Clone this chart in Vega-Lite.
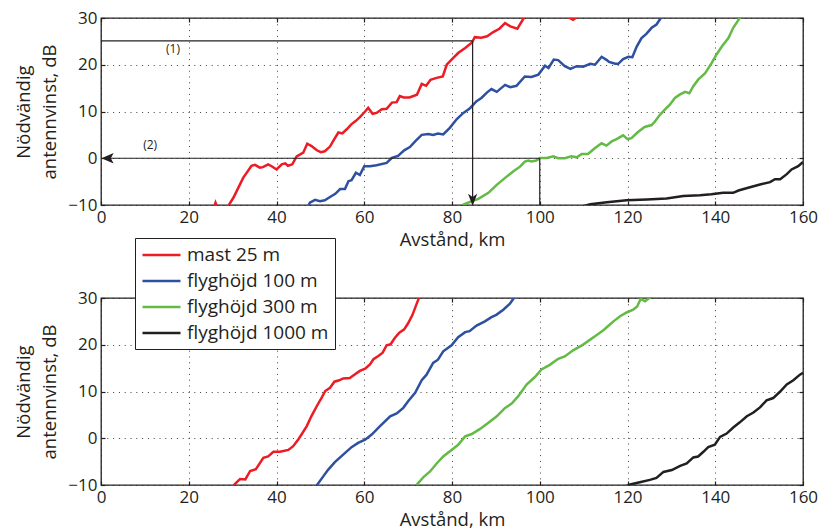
{
  "$schema": "https://vega.github.io/schema/vega-lite/v6.json",
  "background": "white",
  "padding": {"left": 14, "top": 8, "right": 8, "bottom": 0},
  "spacing": 93,
  "bounds": "flush",
  "datasets": {
    "top": [
      {"serie":"mast 25 m","km":25.6,"dB":-10.8},{"serie":"mast 25 m","km":26.1,"dB":-9.5},{"serie":"mast 25 m","km":26.6,"dB":-10.8},{"serie":"mast 25 m","km":28.7,"dB":-11},{"serie":"mast 25 m","km":29.2,"dB":-9.9},{"serie":"mast 25 m","km":30.2,"dB":-8.4},{"serie":"mast 25 m","km":32.4,"dB":-4.2},{"serie":"mast 25 m","km":34.3,"dB":-1.6},{"serie":"mast 25 m","km":35.1,"dB":-1.4},{"serie":"mast 25 m","km":36.2,"dB":-2.0},{"serie":"mast 25 m","km":36.9,"dB":-1.9},{"serie":"mast 25 m","km":38.1,"dB":-1.3},{"serie":"mast 25 m","km":38.9,"dB":-1.7},{"serie":"mast 25 m","km":40,"dB":-2.4},{"serie":"mast 25 m","km":41.2,"dB":-1.3},{"serie":"mast 25 m","km":42,"dB":-1.1},{"serie":"mast 25 m","km":42.6,"dB":-1.6},{"serie":"mast 25 m","km":43.6,"dB":-1.3},{"serie":"mast 25 m","km":44.6,"dB":0.4},{"serie":"mast 25 m","km":46.1,"dB":1.2},{"serie":"mast 25 m","km":47,"dB":3.1},{"serie":"mast 25 m","km":48,"dB":2.6},{"serie":"mast 25 m","km":49.2,"dB":1.7},{"serie":"mast 25 m","km":50.1,"dB":1.3},{"serie":"mast 25 m","km":51,"dB":1.5},{"serie":"mast 25 m","km":52.2,"dB":2.5},{"serie":"mast 25 m","km":53,"dB":3.8},{"serie":"mast 25 m","km":54.1,"dB":5.5},{"serie":"mast 25 m","km":55,"dB":5.3},{"serie":"mast 25 m","km":56,"dB":6.2},{"serie":"mast 25 m","km":57.1,"dB":7.3},{"serie":"mast 25 m","km":58.1,"dB":8.0},{"serie":"mast 25 m","km":59,"dB":8.8},{"serie":"mast 25 m","km":60.2,"dB":10.0},{"serie":"mast 25 m","km":60.9,"dB":10.8},{"serie":"mast 25 m","km":61.9,"dB":9.5},{"serie":"mast 25 m","km":62.8,"dB":9.7},{"serie":"mast 25 m","km":64,"dB":10.5},{"serie":"mast 25 m","km":65.1,"dB":10.6},{"serie":"mast 25 m","km":66.3,"dB":11.9},{"serie":"mast 25 m","km":67.4,"dB":12.0},{"serie":"mast 25 m","km":68.1,"dB":13.3},{"serie":"mast 25 m","km":69,"dB":13.0},{"serie":"mast 25 m","km":70.3,"dB":13.0},{"serie":"mast 25 m","km":72,"dB":13.6},{"serie":"mast 25 m","km":73.1,"dB":15.9},{"serie":"mast 25 m","km":74.1,"dB":15.5},{"serie":"mast 25 m","km":75.1,"dB":16.8},{"serie":"mast 25 m","km":76.5,"dB":17.2},{"serie":"mast 25 m","km":77.9,"dB":17.5},{"serie":"mast 25 m","km":78.8,"dB":20},{"serie":"mast 25 m","km":79.9,"dB":21.1},{"serie":"mast 25 m","km":81.4,"dB":22.5},{"serie":"mast 25 m","km":83,"dB":23.6},{"serie":"mast 25 m","km":84.5,"dB":24.7},{"serie":"mast 25 m","km":85.2,"dB":25.9},{"serie":"mast 25 m","km":86.7,"dB":25.8},{"serie":"mast 25 m","km":88,"dB":26.1},{"serie":"mast 25 m","km":89.4,"dB":27},{"serie":"mast 25 m","km":90.8,"dB":27.7},{"serie":"mast 25 m","km":92.1,"dB":28.9},{"serie":"mast 25 m","km":93.3,"dB":28.2},{"serie":"mast 25 m","km":94.9,"dB":27.7},{"serie":"mast 25 m","km":96.5,"dB":30.2},{"serie":"mast 25 m","km":98,"dB":31.5},{"serie":"mast 25 m","km":103,"dB":32},{"serie":"mast 25 m","km":106.5,"dB":30.2},{"serie":"mast 25 m","km":107.6,"dB":29.6},{"serie":"mast 25 m","km":108.5,"dB":30.2},{"serie":"mast 25 m","km":111,"dB":32},{"serie":"mast 25 m","km":115,"dB":34},
      {"serie":"flyghöjd 100 m","km":47,"dB":-10.8},{"serie":"flyghöjd 100 m","km":47.6,"dB":-9.5},{"serie":"flyghöjd 100 m","km":48.8,"dB":-8.9},{"serie":"flyghöjd 100 m","km":49.9,"dB":-9.2},{"serie":"flyghöjd 100 m","km":51,"dB":-9},{"serie":"flyghöjd 100 m","km":52.2,"dB":-8.3},{"serie":"flyghöjd 100 m","km":53.4,"dB":-7.6},{"serie":"flyghöjd 100 m","km":54.5,"dB":-6.6},{"serie":"flyghöjd 100 m","km":55.6,"dB":-6.6},{"serie":"flyghöjd 100 m","km":56.4,"dB":-4.9},{"serie":"flyghöjd 100 m","km":57.1,"dB":-4.7},{"serie":"flyghöjd 100 m","km":58.1,"dB":-3.1},{"serie":"flyghöjd 100 m","km":59,"dB":-3.6},{"serie":"flyghöjd 100 m","km":60,"dB":-1.7},{"serie":"flyghöjd 100 m","km":61.3,"dB":-1.7},{"serie":"flyghöjd 100 m","km":62.8,"dB":-1.5},{"serie":"flyghöjd 100 m","km":65.1,"dB":-1.0},{"serie":"flyghöjd 100 m","km":66.3,"dB":0.1},{"serie":"flyghöjd 100 m","km":67.7,"dB":0.5},{"serie":"flyghöjd 100 m","km":69.1,"dB":1.7},{"serie":"flyghöjd 100 m","km":70.4,"dB":2.4},{"serie":"flyghöjd 100 m","km":71.6,"dB":3.6},{"serie":"flyghöjd 100 m","km":73.1,"dB":5.0},{"serie":"flyghöjd 100 m","km":74.6,"dB":5.2},{"serie":"flyghöjd 100 m","km":75.7,"dB":5.0},{"serie":"flyghöjd 100 m","km":76.8,"dB":5.3},{"serie":"flyghöjd 100 m","km":78,"dB":5.1},{"serie":"flyghöjd 100 m","km":79.5,"dB":6.5},{"serie":"flyghöjd 100 m","km":81.1,"dB":8.4},{"serie":"flyghöjd 100 m","km":82.6,"dB":9.7},{"serie":"flyghöjd 100 m","km":84.1,"dB":10.7},{"serie":"flyghöjd 100 m","km":85.6,"dB":12.2},{"serie":"flyghöjd 100 m","km":86.7,"dB":12.9},{"serie":"flyghöjd 100 m","km":88,"dB":14.1},{"serie":"flyghöjd 100 m","km":89,"dB":14.8},{"serie":"flyghöjd 100 m","km":90.2,"dB":14.2},{"serie":"flyghöjd 100 m","km":92.1,"dB":15.7},{"serie":"flyghöjd 100 m","km":93.3,"dB":15.2},{"serie":"flyghöjd 100 m","km":94.7,"dB":15.5},{"serie":"flyghöjd 100 m","km":96.6,"dB":17.5},{"serie":"flyghöjd 100 m","km":98.1,"dB":17.4},{"serie":"flyghöjd 100 m","km":99.7,"dB":17.9},{"serie":"flyghöjd 100 m","km":101.2,"dB":19.8},{"serie":"flyghöjd 100 m","km":102,"dB":19.3},{"serie":"flyghöjd 100 m","km":103.2,"dB":21.1},{"serie":"flyghöjd 100 m","km":104.2,"dB":21},{"serie":"flyghöjd 100 m","km":105.7,"dB":19.7},{"serie":"flyghöjd 100 m","km":107,"dB":19.1},{"serie":"flyghöjd 100 m","km":108.4,"dB":19.7},{"serie":"flyghöjd 100 m","km":109.9,"dB":19.6},{"serie":"flyghöjd 100 m","km":111.5,"dB":20.2},{"serie":"flyghöjd 100 m","km":112.6,"dB":20.0},{"serie":"flyghöjd 100 m","km":114.1,"dB":21.7},{"serie":"flyghöjd 100 m","km":115.3,"dB":21},{"serie":"flyghöjd 100 m","km":115.8,"dB":20.6},{"serie":"flyghöjd 100 m","km":117.2,"dB":20.2},{"serie":"flyghöjd 100 m","km":117.9,"dB":20.2},{"serie":"flyghöjd 100 m","km":119,"dB":21.2},{"serie":"flyghöjd 100 m","km":120.2,"dB":21.7},{"serie":"flyghöjd 100 m","km":121.1,"dB":21.6},{"serie":"flyghöjd 100 m","km":122.1,"dB":23.9},{"serie":"flyghöjd 100 m","km":123.2,"dB":25.7},{"serie":"flyghöjd 100 m","km":124.3,"dB":26.6},{"serie":"flyghöjd 100 m","km":125.5,"dB":27.9},{"serie":"flyghöjd 100 m","km":126.6,"dB":28.6},{"serie":"flyghöjd 100 m","km":127.6,"dB":30},{"serie":"flyghöjd 100 m","km":128.5,"dB":31.5},
      {"serie":"flyghöjd 300 m","km":82,"dB":-10.8},{"serie":"flyghöjd 300 m","km":82.6,"dB":-9.9},{"serie":"flyghöjd 300 m","km":84.5,"dB":-9.2},{"serie":"flyghöjd 300 m","km":86,"dB":-8.7},{"serie":"flyghöjd 300 m","km":88.3,"dB":-7.4},{"serie":"flyghöjd 300 m","km":90.2,"dB":-5.7},{"serie":"flyghöjd 300 m","km":92.1,"dB":-4.2},{"serie":"flyghöjd 300 m","km":94,"dB":-2.8},{"serie":"flyghöjd 300 m","km":95.5,"dB":-1.8},{"serie":"flyghöjd 300 m","km":96.6,"dB":-0.7},{"serie":"flyghöjd 300 m","km":97.4,"dB":-0.5},{"serie":"flyghöjd 300 m","km":98.1,"dB":-0.7},{"serie":"flyghöjd 300 m","km":99.2,"dB":-0.5},{"serie":"flyghöjd 300 m","km":100.1,"dB":0.05},{"serie":"flyghöjd 300 m","km":101.6,"dB":0.05},{"serie":"flyghöjd 300 m","km":103.1,"dB":0.4},{"serie":"flyghöjd 300 m","km":104.2,"dB":0},{"serie":"flyghöjd 300 m","km":105.7,"dB":0},{"serie":"flyghöjd 300 m","km":107.2,"dB":0.4},{"serie":"flyghöjd 300 m","km":108.4,"dB":0.2},{"serie":"flyghöjd 300 m","km":109.6,"dB":0.9},{"serie":"flyghöjd 300 m","km":111,"dB":0.9},{"serie":"flyghöjd 300 m","km":112.6,"dB":2.2},{"serie":"flyghöjd 300 m","km":114.1,"dB":3.2},{"serie":"flyghöjd 300 m","km":115.2,"dB":2.7},{"serie":"flyghöjd 300 m","km":116.4,"dB":3.6},{"serie":"flyghöjd 300 m","km":117.5,"dB":4.1},{"serie":"flyghöjd 300 m","km":119,"dB":4.9},{"serie":"flyghöjd 300 m","km":120,"dB":4.1},{"serie":"flyghöjd 300 m","km":120.9,"dB":4.3},{"serie":"flyghöjd 300 m","km":122.4,"dB":5.6},{"serie":"flyghöjd 300 m","km":123.9,"dB":6.7},{"serie":"flyghöjd 300 m","km":125.5,"dB":7.1},{"serie":"flyghöjd 300 m","km":126.2,"dB":7.8},{"serie":"flyghöjd 300 m","km":127.4,"dB":9.3},{"serie":"flyghöjd 300 m","km":128.5,"dB":10.4},{"serie":"flyghöjd 300 m","km":129.7,"dB":11.5},{"serie":"flyghöjd 300 m","km":130.8,"dB":12.9},{"serie":"flyghöjd 300 m","km":131.9,"dB":13.6},{"serie":"flyghöjd 300 m","km":133.1,"dB":14.2},{"serie":"flyghöjd 300 m","km":134.1,"dB":13.9},{"serie":"flyghöjd 300 m","km":135,"dB":15.4},{"serie":"flyghöjd 300 m","km":136.1,"dB":16.8},{"serie":"flyghöjd 300 m","km":137.7,"dB":18.2},{"serie":"flyghöjd 300 m","km":139.2,"dB":20.4},{"serie":"flyghöjd 300 m","km":140.3,"dB":22.2},{"serie":"flyghöjd 300 m","km":141.5,"dB":23.9},{"serie":"flyghöjd 300 m","km":143,"dB":25.7},{"serie":"flyghöjd 300 m","km":144.1,"dB":27.9},{"serie":"flyghöjd 300 m","km":145.3,"dB":29.6},{"serie":"flyghöjd 300 m","km":146.5,"dB":31.5},
      {"serie":"flyghöjd 1000 m","km":109,"dB":-10.5},{"serie":"flyghöjd 1000 m","km":111.5,"dB":-9.85},{"serie":"flyghöjd 1000 m","km":115.3,"dB":-9.4},{"serie":"flyghöjd 1000 m","km":119.8,"dB":-9.0},{"serie":"flyghöjd 1000 m","km":124.4,"dB":-8.8},{"serie":"flyghöjd 1000 m","km":128.9,"dB":-8.6},{"serie":"flyghöjd 1000 m","km":132.7,"dB":-8.1},{"serie":"flyghöjd 1000 m","km":136.5,"dB":-7.9},{"serie":"flyghöjd 1000 m","km":139.1,"dB":-7.7},{"serie":"flyghöjd 1000 m","km":141.8,"dB":-7.4},{"serie":"flyghöjd 1000 m","km":144.1,"dB":-7.4},{"serie":"flyghöjd 1000 m","km":145.3,"dB":-6.9},{"serie":"flyghöjd 1000 m","km":147.5,"dB":-6.3},{"serie":"flyghöjd 1000 m","km":150.2,"dB":-5.6},{"serie":"flyghöjd 1000 m","km":152.5,"dB":-5.1},{"serie":"flyghöjd 1000 m","km":153.6,"dB":-4.5},{"serie":"flyghöjd 1000 m","km":154.8,"dB":-4.5},{"serie":"flyghöjd 1000 m","km":156.3,"dB":-3.4},{"serie":"flyghöjd 1000 m","km":157.4,"dB":-2.4},{"serie":"flyghöjd 1000 m","km":158.9,"dB":-1.7},{"serie":"flyghöjd 1000 m","km":160,"dB":-0.8}
    ],
    "bottom": [
      {"serie":"mast 25 m","km":29.8,"dB":-11},{"serie":"mast 25 m","km":30.4,"dB":-9.9},{"serie":"mast 25 m","km":31.7,"dB":-8.7},{"serie":"mast 25 m","km":32.9,"dB":-8.8},{"serie":"mast 25 m","km":34,"dB":-7.0},{"serie":"mast 25 m","km":35.3,"dB":-6.6},{"serie":"mast 25 m","km":37,"dB":-4.2},{"serie":"mast 25 m","km":38.1,"dB":-3.9},{"serie":"mast 25 m","km":39.3,"dB":-2.9},{"serie":"mast 25 m","km":40.8,"dB":-2.9},{"serie":"mast 25 m","km":42.7,"dB":-2.5},{"serie":"mast 25 m","km":43.8,"dB":-1.7},{"serie":"mast 25 m","km":45,"dB":-0.2},{"serie":"mast 25 m","km":45.7,"dB":0.8},{"serie":"mast 25 m","km":46.9,"dB":2.6},{"serie":"mast 25 m","km":48,"dB":4.8},{"serie":"mast 25 m","km":49.2,"dB":6.9},{"serie":"mast 25 m","km":50.3,"dB":8.7},{"serie":"mast 25 m","km":51.1,"dB":10.1},{"serie":"mast 25 m","km":52.2,"dB":10.8},{"serie":"mast 25 m","km":53.2,"dB":12.1},{"serie":"mast 25 m","km":54.3,"dB":12.4},{"serie":"mast 25 m","km":55.2,"dB":12.8},{"serie":"mast 25 m","km":56.7,"dB":12.9},{"serie":"mast 25 m","km":57.9,"dB":13.7},{"serie":"mast 25 m","km":59,"dB":14.4},{"serie":"mast 25 m","km":60.2,"dB":14.9},{"serie":"mast 25 m","km":61.3,"dB":15.8},{"serie":"mast 25 m","km":62.1,"dB":16.9},{"serie":"mast 25 m","km":63.2,"dB":17.6},{"serie":"mast 25 m","km":64.2,"dB":18.3},{"serie":"mast 25 m","km":65.1,"dB":19.9},{"serie":"mast 25 m","km":66,"dB":20.1},{"serie":"mast 25 m","km":67,"dB":21.5},{"serie":"mast 25 m","km":68,"dB":22.6},{"serie":"mast 25 m","km":69.1,"dB":23.3},{"serie":"mast 25 m","km":70,"dB":24.6},{"serie":"mast 25 m","km":71,"dB":26.4},{"serie":"mast 25 m","km":72,"dB":28.9},{"serie":"mast 25 m","km":72.6,"dB":30.3},{"serie":"mast 25 m","km":73.5,"dB":32},
      {"serie":"flyghöjd 100 m","km":48.8,"dB":-11},{"serie":"flyghöjd 100 m","km":49.3,"dB":-9.9},{"serie":"flyghöjd 100 m","km":50.7,"dB":-8.1},{"serie":"flyghöjd 100 m","km":51.8,"dB":-6.7},{"serie":"flyghöjd 100 m","km":53.3,"dB":-5.1},{"serie":"flyghöjd 100 m","km":55.2,"dB":-3.5},{"serie":"flyghöjd 100 m","km":57.1,"dB":-1.9},{"serie":"flyghöjd 100 m","km":58.6,"dB":-1.0},{"serie":"flyghöjd 100 m","km":60.2,"dB":-0.3},{"serie":"flyghöjd 100 m","km":61.7,"dB":0.8},{"serie":"flyghöjd 100 m","km":63.6,"dB":2.6},{"serie":"flyghöjd 100 m","km":65.9,"dB":4.7},{"serie":"flyghöjd 100 m","km":67.4,"dB":5.3},{"serie":"flyghöjd 100 m","km":68.9,"dB":6.5},{"serie":"flyghöjd 100 m","km":70,"dB":7.9},{"serie":"flyghöjd 100 m","km":71.6,"dB":9.7},{"serie":"flyghöjd 100 m","km":73.1,"dB":12.4},{"serie":"flyghöjd 100 m","km":74.2,"dB":13.6},{"serie":"flyghöjd 100 m","km":75.7,"dB":16.1},{"serie":"flyghöjd 100 m","km":76.8,"dB":16.8},{"serie":"flyghöjd 100 m","km":78,"dB":18.6},{"serie":"flyghöjd 100 m","km":79.9,"dB":19.9},{"serie":"flyghöjd 100 m","km":81.4,"dB":21.6},{"serie":"flyghöjd 100 m","km":83,"dB":22.7},{"serie":"flyghöjd 100 m","km":84,"dB":22.9},{"serie":"flyghöjd 100 m","km":85.6,"dB":24.1},{"serie":"flyghöjd 100 m","km":87.5,"dB":25.0},{"serie":"flyghöjd 100 m","km":89,"dB":25.9},{"serie":"flyghöjd 100 m","km":90.1,"dB":26.4},{"serie":"flyghöjd 100 m","km":91.7,"dB":27.5},{"serie":"flyghöjd 100 m","km":93.2,"dB":28.8},{"serie":"flyghöjd 100 m","km":94.1,"dB":30},{"serie":"flyghöjd 100 m","km":95,"dB":31.5},
      {"serie":"flyghöjd 300 m","km":71.4,"dB":-11},{"serie":"flyghöjd 300 m","km":72,"dB":-9.9},{"serie":"flyghöjd 300 m","km":73.5,"dB":-8.3},{"serie":"flyghöjd 300 m","km":75,"dB":-7.1},{"serie":"flyghöjd 300 m","km":76.5,"dB":-5.4},{"serie":"flyghöjd 300 m","km":78,"dB":-3.9},{"serie":"flyghöjd 300 m","km":79.9,"dB":-2.5},{"serie":"flyghöjd 300 m","km":81.4,"dB":-1.4},{"serie":"flyghöjd 300 m","km":83,"dB":0.4},{"serie":"flyghöjd 300 m","km":84.5,"dB":0.9},{"serie":"flyghöjd 300 m","km":86.4,"dB":2.0},{"serie":"flyghöjd 300 m","km":88.3,"dB":3.3},{"serie":"flyghöjd 300 m","km":90.2,"dB":4.7},{"serie":"flyghöjd 300 m","km":92.1,"dB":6.5},{"serie":"flyghöjd 300 m","km":93.6,"dB":7.4},{"serie":"flyghöjd 300 m","km":95.1,"dB":9.0},{"serie":"flyghöjd 300 m","km":97,"dB":11.5},{"serie":"flyghöjd 300 m","km":98.9,"dB":13.1},{"serie":"flyghöjd 300 m","km":100.4,"dB":14.7},{"serie":"flyghöjd 300 m","km":102.3,"dB":15.7},{"serie":"flyghöjd 300 m","km":104.2,"dB":17.0},{"serie":"flyghöjd 300 m","km":105.7,"dB":17.5},{"serie":"flyghöjd 300 m","km":107.6,"dB":18.8},{"serie":"flyghöjd 300 m","km":109.5,"dB":19.8},{"serie":"flyghöjd 300 m","km":111.5,"dB":21.1},{"serie":"flyghöjd 300 m","km":113,"dB":22.1},{"serie":"flyghöjd 300 m","km":114.5,"dB":23.1},{"serie":"flyghöjd 300 m","km":115.6,"dB":24.0},{"serie":"flyghöjd 300 m","km":116.8,"dB":25.0},{"serie":"flyghöjd 300 m","km":118.3,"dB":26.1},{"serie":"flyghöjd 300 m","km":119.8,"dB":26.9},{"serie":"flyghöjd 300 m","km":121.3,"dB":27.5},{"serie":"flyghöjd 300 m","km":122.2,"dB":28.2},{"serie":"flyghöjd 300 m","km":123,"dB":29.8},{"serie":"flyghöjd 300 m","km":124,"dB":29.3},{"serie":"flyghöjd 300 m","km":125,"dB":30},{"serie":"flyghöjd 300 m","km":126,"dB":31.5},
      {"serie":"flyghöjd 1000 m","km":119,"dB":-10.5},{"serie":"flyghöjd 1000 m","km":120.6,"dB":-9.9},{"serie":"flyghöjd 1000 m","km":122.8,"dB":-9.4},{"serie":"flyghöjd 1000 m","km":125.1,"dB":-8.9},{"serie":"flyghöjd 1000 m","km":126.6,"dB":-8.5},{"serie":"flyghöjd 1000 m","km":128.2,"dB":-7.2},{"serie":"flyghöjd 1000 m","km":130.1,"dB":-6.8},{"serie":"flyghöjd 1000 m","km":132,"dB":-5.9},{"serie":"flyghöjd 1000 m","km":133.5,"dB":-5.4},{"serie":"flyghöjd 1000 m","km":135,"dB":-4.1},{"serie":"flyghöjd 1000 m","km":136.1,"dB":-3.9},{"serie":"flyghöjd 1000 m","km":137.3,"dB":-2.9},{"serie":"flyghöjd 1000 m","km":138.4,"dB":-1.9},{"serie":"flyghöjd 1000 m","km":139.9,"dB":-1.4},{"serie":"flyghöjd 1000 m","km":141.1,"dB":0.3},{"serie":"flyghöjd 1000 m","km":142.6,"dB":1.0},{"serie":"flyghöjd 1000 m","km":144.1,"dB":2.3},{"serie":"flyghöjd 1000 m","km":145.6,"dB":3.4},{"serie":"flyghöjd 1000 m","km":147.2,"dB":4.7},{"serie":"flyghöjd 1000 m","km":148.7,"dB":5.5},{"serie":"flyghöjd 1000 m","km":150.2,"dB":6.6},{"serie":"flyghöjd 1000 m","km":151.7,"dB":8.1},{"serie":"flyghöjd 1000 m","km":153.2,"dB":8.6},{"serie":"flyghöjd 1000 m","km":154.8,"dB":10.0},{"serie":"flyghöjd 1000 m","km":156.3,"dB":11.5},{"serie":"flyghöjd 1000 m","km":157.8,"dB":12.4},{"serie":"flyghöjd 1000 m","km":159.3,"dB":13.6},{"serie":"flyghöjd 1000 m","km":160,"dB":14}
    ],
    "guides": [
      {"km":0,"dB":25.1,"km2":84.7,"dB2":25.1},
      {"km":84.7,"dB":25.1,"km2":84.7,"dB2":-9},
      {"km":1,"dB":0,"km2":100,"dB2":0},
      {"km":100,"dB":0,"km2":100,"dB2":-10}
    ],
    "arrows": [
      {"km":84.7,"dB":-8.93,"dir":"down"},
      {"km":1.48,"dB":0,"dir":"left"}
    ],
    "notes": [
      {"km":16.4,"dB":23.3,"t":"(1)"},
      {"km":11.2,"dB":2.8,"t":"(2)"}
    ]
  },
  "vconcat": [
    {
      "width": 702,
      "height": 187,
      "layer": [
        {
          "data": {"name": "top"},
          "mark": {"type": "line", "clip": true, "strokeWidth": 2.5},
          "encoding": {
            "x": {"field": "km", "type": "quantitative", "scale": {"domain": [0, 160], "nice": false},
                  "axis": {"values": [0, 20, 40, 60, 80, 100, 120, 140, 160], "title": "Avstånd, km"}},
            "y": {"field": "dB", "type": "quantitative", "scale": {"domain": [-10, 30], "nice": false, "zero": false},
                  "axis": {"values": [-10, 0, 10, 20, 30], "title": ["Nödvändig", "antennvinst, dB"]}},
            "color": {"field": "serie", "type": "nominal",
                      "scale": {"domain": ["mast 25 m", "flyghöjd 100 m", "flyghöjd 300 m", "flyghöjd 1000 m"], "range": ["#ed1c24", "#2e50a0", "#63bb46", "#231f20"]},
                      "legend": null}
          }
        },
        {
          "data": {"name": "guides"},
          "mark": {"type": "rule", "color": "#231f20", "strokeWidth": 1.2},
          "encoding": {
            "x": {"field": "km", "type": "quantitative",
                  "axis": {"orient": "top", "values": [0, 20, 40, 60, 80, 100, 120, 140, 160], "labels": false, "grid": false, "title": null}},
            "y": {"field": "dB", "type": "quantitative",
                  "axis": {"orient": "right", "values": [-10, 0, 10, 20, 30], "labels": false, "grid": false, "title": null}},
            "x2": {"field": "km2"},
            "y2": {"field": "dB2"}
          }
        },
        {
          "data": {"name": "arrows"},
          "mark": {"type": "point", "filled": true, "color": "#231f20", "opacity": 1, "size": 150},
          "encoding": {
            "x": {"field": "km", "type": "quantitative", "axis": null},
            "y": {"field": "dB", "type": "quantitative", "axis": null},
            "shape": {"field": "dir", "type": "nominal",
                      "scale": {"domain": ["down", "left"], "range": ["M0,1L-0.75,-1L0,-0.5L0.75,-1Z", "M-1,0L1,-0.85L0.55,0L1,0.85Z"]},
                      "legend": null}
          }
        },
        {
          "data": {"name": "notes"},
          "mark": {"type": "text", "font": "Open Sans", "fontSize": 12, "fill": "#231f20"},
          "encoding": {
            "x": {"field": "km", "type": "quantitative", "axis": null},
            "y": {"field": "dB", "type": "quantitative", "axis": null},
            "text": {"field": "t"}
          }
        }
      ],
      "resolve": {"axis": {"x": "independent", "y": "independent"}}
    },
    {
      "width": 702,
      "height": 187,
      "data": {"name": "bottom"},
      "layer": [
        {
          "mark": {"type": "line", "clip": true, "strokeWidth": 2.5},
          "encoding": {
            "x": {"field": "km", "type": "quantitative", "scale": {"domain": [0, 160], "nice": false},
                  "axis": {"values": [0, 20, 40, 60, 80, 100, 120, 140, 160], "title": "Avstånd, km"}},
            "y": {"field": "dB", "type": "quantitative", "scale": {"domain": [-10, 30], "nice": false, "zero": false},
                  "axis": {"values": [-10, 0, 10, 20, 30], "title": ["Nödvändig", "antennvinst, dB"]}},
            "color": {"field": "serie", "type": "nominal",
                      "scale": {"domain": ["mast 25 m", "flyghöjd 100 m", "flyghöjd 300 m", "flyghöjd 1000 m"], "range": ["#ed1c24", "#2e50a0", "#63bb46", "#231f20"]},
                      "legend": {"orient": "none", "legendX": 34, "legendY": -60, "title": null, "direction": "vertical",
                                 "fillColor": "white", "strokeColor": "#231f20", "padding": 6,
                                 "symbolType": "M-1,0H3", "symbolSize": 361, "symbolStrokeWidth": 2.5,
                                 "labelFont": "Open Sans", "labelFontSize": 19, "labelColor": "#231f20",
                                 "labelOffset": 24, "rowPadding": 5}}
          }
        },
        {
          "mark": {"type": "point", "clip": true, "opacity": 0},
          "encoding": {
            "x": {"field": "km", "type": "quantitative",
                  "axis": {"orient": "top", "values": [0, 20, 40, 60, 80, 100, 120, 140, 160], "labels": false, "grid": false, "title": null}},
            "y": {"field": "dB", "type": "quantitative",
                  "axis": {"orient": "right", "values": [-10, 0, 10, 20, 30], "labels": false, "grid": false, "title": null}}
          }
        }
      ],
      "resolve": {"axis": {"x": "independent", "y": "independent"}}
    }
  ],
  "resolve": {"scale": {"color": "independent", "shape": "independent"}},
  "config": {
    "font": "Open Sans",
    "view": {"stroke": "#231f20", "strokeWidth": 1.3},
    "axis": {
      "labelFont": "Open Sans", "labelFontSize": 17, "labelColor": "#231f20", "labelPadding": 8, "labelFlush": false,
      "titleFont": "Open Sans", "titleFontSize": 18.5, "titleFontWeight": "normal", "titleColor": "#231f20",
      "ticks": true, "tickSize": -4, "tickColor": "#231f20", "tickWidth": 1.2,
      "domain": false, "grid": true, "gridColor": "#231f20", "gridDash": [1, 4.8], "gridOpacity": 0.85
    },
    "axisX": {"titlePadding": 5},
    "axisY": {"titlePadding": 8, "titleLineHeight": 26}
  }
}
